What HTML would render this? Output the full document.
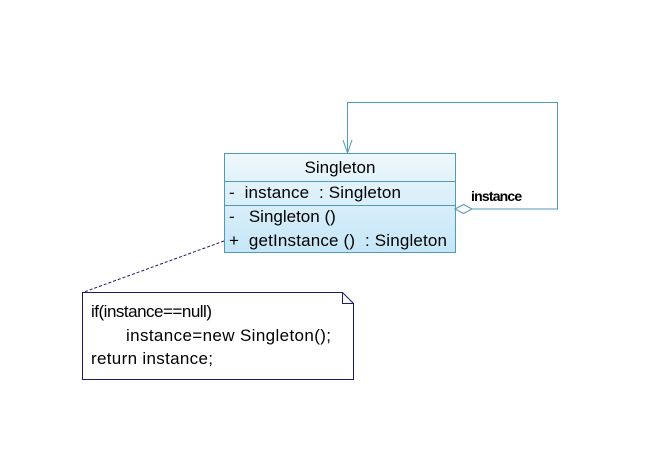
<!DOCTYPE html>
<html><head><style>
body{margin:0;background:#fff;width:669px;height:449px;overflow:hidden}
svg{display:block}
text{font-family:"Liberation Sans",Arial,sans-serif;fill:#000;white-space:pre}
</style></head><body>
<svg width="669" height="449" viewBox="0 0 669 449">
<defs><linearGradient id="g" x1="0" y1="0" x2="0" y2="1"><stop offset="0" stop-color="#eef8fd"/><stop offset="1" stop-color="#c5e6f7"/></linearGradient></defs>
<rect x="224.5" y="153.5" width="231" height="99" fill="url(#g)" stroke="#4f9ab8"/>
<line x1="224" y1="181.5" x2="455" y2="181.5" stroke="#4f9ab8"/>
<line x1="224" y1="205.5" x2="455" y2="205.5" stroke="#4f9ab8"/>
<text x="340" y="173" font-size="17" text-anchor="middle">Singleton</text>
<text x="229" y="198" font-size="17" xml:space="preserve" textLength="172">-  instance  : Singleton</text>
<text x="229" y="222" font-size="17" xml:space="preserve">-   Singleton ()</text>
<text x="229" y="246" font-size="17" xml:space="preserve" textLength="218">+  getInstance ()  : Singleton</text>
<polyline points="472,209 557.5,209 557.5,102.5 347.5,102.5 347.5,153" fill="none" stroke="#4f9ab8"/>
<polyline points="343,140 347.5,153 352,140" fill="none" stroke="#4f9ab8"/>
<polygon points="455,209 463.5,204.5 472,209 463.5,213.5" fill="#fff" stroke="#4f9ab8"/>
<text x="471" y="201" font-size="14" font-weight="bold" letter-spacing="-0.8">instance</text>
<line x1="224" y1="241" x2="84" y2="292" stroke="#1a1a6e" stroke-dasharray="3,2"/>
<path d="M82.5 292.5 H342.5 L353.5 303.5 V379.5 H82.5 Z" fill="#fff" stroke="#1a1a6e"/>
<polyline points="342.5,292.5 342.5,303.5 353.5,303.5" fill="none" stroke="#1a1a6e"/>
<text x="91" y="317" font-size="17" textLength="121">if(instance==null)</text>
<text x="126" y="341" font-size="17" textLength="205">instance=new Singleton();</text>
<text x="91" y="364" font-size="17" textLength="122">return instance;</text>
</svg>
</body></html>
